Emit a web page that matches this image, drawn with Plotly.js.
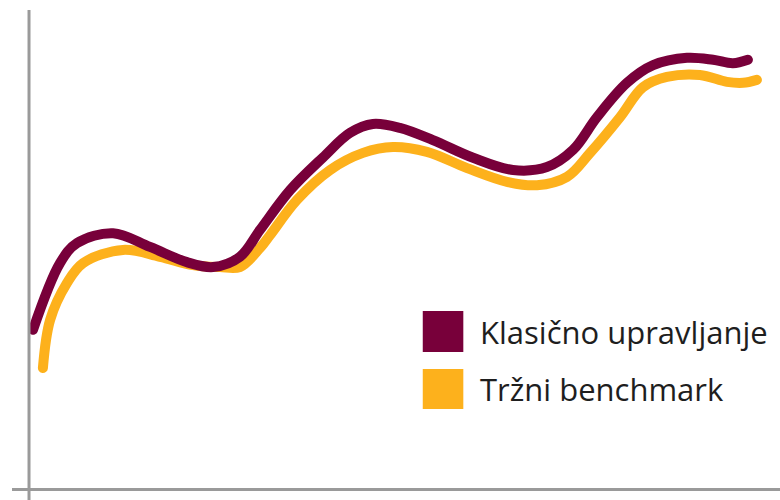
<!DOCTYPE html>
<html>
<head>
<meta charset="utf-8">
<script src="https://cdn.plot.ly/plotly-3.0.1.min.js"></script>
<style>html,body{margin:0;padding:0;background:#fff;}#chart{width:780px;height:500px;}
#chart .scatterlayer path.js-line{stroke-linecap:round;stroke-linejoin:round;}</style>
</head>
<body>
<div id="chart"></div>
<script>
// Series names
var seriesNames = ["Klasično upravljanje", "Tržni benchmark"];

// Klasično upravljanje (time, index value)
var classicX = [0.1, 1.0, 1.57, 2.77, 4.0, 5.23, 6.1, 7.0, 7.67, 8.67, 9.77, 10.67, 11.43, 12.33, 13.43, 14.77, 16.1, 17.23, 18.1, 18.9, 19.9, 20.77, 21.9, 22.77, 23.43, 23.93];
var classicY = [32.7, 46.3, 50.4, 52.4, 49.6, 46.5, 45.5, 47.6, 53.1, 61.2, 67.9, 72.9, 74.7, 73.9, 71.4, 67.8, 65.3, 65.9, 69.4, 76.1, 83.1, 86.7, 88.2, 87.8, 87.1, 87.8];

// Tržni benchmark (time, index value)
var benchX = [0.43, 0.67, 1.23, 1.77, 3.1, 4.33, 5.43, 6.33, 7.0, 7.67, 8.0, 8.9, 10.0, 11.1, 12.1, 13.23, 14.57, 15.9, 16.9, 17.9, 18.67, 19.67, 20.43, 21.23, 22.33, 23.23, 23.77, 24.23];
var benchY = [24.9, 34.7, 42.2, 46.3, 49.0, 47.6, 45.9, 45.5, 45.5, 49.4, 52.0, 59.2, 65.3, 68.8, 70.0, 69.0, 65.7, 62.9, 62.2, 63.9, 68.8, 76.1, 82.2, 84.3, 84.7, 83.3, 83.1, 83.7];

var colors = ["#78003a", "#fdb11c"];

var traces = [
  {x: benchX, y: benchY, mode: "lines", name: seriesNames[1],
   line: {color: colors[1], width: 10, shape: "spline", smoothing: 1}, showlegend: false, hoverinfo: "skip"},
  {x: classicX, y: classicY, mode: "lines", name: seriesNames[0],
   line: {color: colors[0], width: 10, shape: "spline", smoothing: 1}, showlegend: false, hoverinfo: "skip"}
];

var layout = {
  width: 780, height: 500,
  margin: {l: 0, r: 0, t: 0, b: 0},
  paper_bgcolor: "#fff", plot_bgcolor: "#fff",
  xaxis: {range: [-1, 25], visible: false, fixedrange: true},
  yaxis: {range: [-2.04, 100], visible: false, fixedrange: true},
  shapes: [
    {type: "line", xref: "paper", yref: "paper", x0: 0.0372, x1: 0.0372, y0: 0, y1: 0.98,
     line: {color: "#9a9a9a", width: 3}},
    {type: "line", xref: "paper", yref: "paper", x0: 0.0154, x1: 1, y0: 0.021, y1: 0.021,
     line: {color: "#9a9a9a", width: 3}},
    {type: "rect", xref: "paper", yref: "paper", x0: 0.542, x1: 0.594, y0: 0.296, y1: 0.378,
     fillcolor: colors[0], line: {width: 0}},
    {type: "rect", xref: "paper", yref: "paper", x0: 0.542, x1: 0.594, y0: 0.182, y1: 0.262,
     fillcolor: colors[1], line: {width: 0}}
  ],
  annotations: [
    {xref: "paper", yref: "paper", x: 0.613, y: 0.337, xanchor: "left", yanchor: "middle",
     text: seriesNames[0], showarrow: false, font: {family: "Open Sans", size: 31, color: "#1e1e1e"}},
    {xref: "paper", yref: "paper", x: 0.613, y: 0.222, xanchor: "left", yanchor: "middle",
     text: seriesNames[1], showarrow: false, font: {family: "Open Sans", size: 31, color: "#1e1e1e"}}
  ]
};

Plotly.newPlot("chart", traces, layout, {displayModeBar: false, staticPlot: true});
</script>
</body>
</html>
